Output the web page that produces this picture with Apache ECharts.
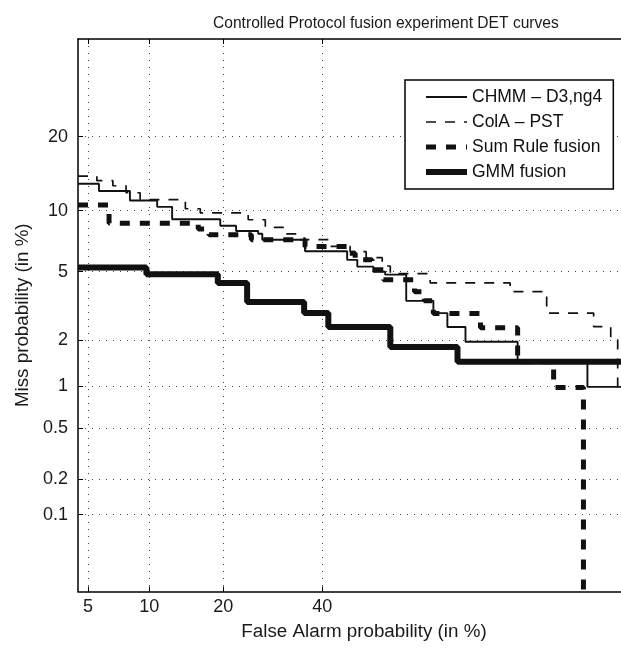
<!DOCTYPE html>
<html>
<head>
<meta charset="utf-8">
<title>DET curves</title>
<script src="https://cdn.jsdelivr.net/npm/echarts@6/dist/echarts.min.js"></script>
<style>
  html, body { margin: 0; padding: 0; background: #fff; }
  #chart { width: 621px; height: 650px; }
</style>
</head>
<body>
<div id="chart"></div>
<script>
// tick labels (in %)
const faTicks = [5, 10, 20, 40]
const missTicks = [0.1, 0.2, 0.5, 1, 2, 5, 10, 20]

// axis limits (in %), the figure is cut at the right edge
const faRange = [4.41, 93.6]
const missRange = [0.0194, 39.74]

// DET curves, false alarm % / miss % at each step
const chmmFa = [4.41, 5.7, 8.13, 10.85, 12.6, 19.5, 22.2, 26.3, 27.1, 36.1, 45.8, 48.2, 52.0, 54.8, 59.7, 65.8, 68.8, 72.5, 81.8, 90.7, 95.3]
const chmmMiss = [13.1, 12.2, 11.1, 10.4, 9.13, 8.51, 8.04, 7.79, 7.29, 6.38, 5.77, 5.32, 5.0, 4.82, 3.45, 2.93, 2.42, 1.96, 1.46, 0.99, 0.99]

const colaFa = [4.41, 5.56, 6.71, 7.79, 9.08, 14.3, 16.4, 24.4, 27.7, 31.8, 35.0, 41.8, 46.5, 50.3, 54.1, 56.0, 65.1, 80.6, 86.0, 91.3, 92.8, 93.35, 95.3]
const colaMiss = [14.1, 13.5, 12.85, 12.0, 11.2, 10.2, 9.76, 9.08, 8.37, 7.79, 7.29, 6.75, 6.35, 5.92, 5.36, 4.88, 4.35, 3.89, 2.93, 2.43, 2.02, 0.91, 0.91]

const sumFa = [4.41, 6.42, 16.1, 17.7, 25.0, 36.1, 46.1, 47.7, 51.7, 54.4, 61.6, 63.8, 65.8, 75.4, 81.8, 86.9, 90.3]
const sumMiss = [10.6, 8.75, 8.22, 7.71, 7.29, 6.75, 6.24, 5.77, 5.12, 4.52, 3.89, 3.45, 2.91, 2.39, 1.46, 0.98, 0]

const gmmFa = [4.41, 9.71, 19.1, 24.2, 35.9, 41.4, 56.0, 70.9, 95.3]
const gmmMiss = [5.27, 4.85, 4.35, 3.40, 2.93, 2.42, 1.82, 1.46, 1.46]

// inverse normal cdf (Acklam), DET axes are on the normal deviate scale
function normInv(p) {
    const a = [-3.969683028665376e+01, 2.209460984245205e+02, -2.759285104469687e+02, 1.383577518672690e+02, -3.066479806614716e+01, 2.506628277459239e+00]
    const b = [-5.447609879822406e+01, 1.615858368580409e+02, -1.556989798598866e+02, 6.680131188771972e+01, -1.328068155288572e+01]
    const c = [-7.784894002430293e-03, -3.223964580411365e-01, -2.400758277161838e+00, -2.549732539343734e+00, 4.374664141464968e+00, 2.938163982698783e+00]
    const d = [7.784695709041462e-03, 3.224671290700398e-01, 2.445134137142996e+00, 3.754408661907416e+00]
    const pl = 0.02425
    let q, r
    if (p < pl) {
        q = Math.sqrt(-2 * Math.log(p))
        return (((((c[0] * q + c[1]) * q + c[2]) * q + c[3]) * q + c[4]) * q + c[5]) / ((((d[0] * q + d[1]) * q + d[2]) * q + d[3]) * q + 1)
    }
    if (p > 1 - pl) {
        q = Math.sqrt(-2 * Math.log(1 - p))
        return -(((((c[0] * q + c[1]) * q + c[2]) * q + c[3]) * q + c[4]) * q + c[5]) / ((((d[0] * q + d[1]) * q + d[2]) * q + d[3]) * q + 1)
    }
    q = p - 0.5
    r = q * q
    return (((((a[0] * r + a[1]) * r + a[2]) * r + a[3]) * r + a[4]) * r + a[5]) * q / (((((b[0] * r + b[1]) * r + b[2]) * r + b[3]) * r + b[4]) * r + 1)
}

// percent -> deviate, a zero miss rate is pushed far below the axis
const dev = (pct) => normInv(Math.max(pct, 1e-4) / 100)

const toPoints = (fa, miss) => fa.map((x, i) => [dev(x), dev(miss[i])])

const labelFor = (ticks) => (value) => {
    let best = ticks[0]
    ticks.forEach((t) => {
        if (Math.abs(dev(t) - value) < Math.abs(dev(best) - value)) best = t
    })
    return String(best)
}

const font = "'Liberation Sans', Arial, Helvetica, sans-serif"
const ink = "#111"
const gridDots = {color: "#444", width: 1, type: [1, 6]}

const faDev = faTicks.map(dev)
const missDev = missTicks.map(dev)

const option = {
    animation: false,
    backgroundColor: "#fff",
    textStyle: {fontFamily: font},
    title: {
        text: "Controlled Protocol fusion experiment DET curves",
        left: 208,
        top: 11,
        textStyle: {fontFamily: font, fontSize: 15.6, fontWeight: "normal", color: "#1a1a1a"}
    },
    grid: {left: 78, right: 0, top: 39, bottom: 58.5},
    legend: {
        orient: "vertical",
        left: 405,
        top: 80,
        padding: [7, 11, 7, 18],
        itemWidth: 41,
        itemHeight: 14,
        itemGap: 5,
        backgroundColor: "#fff",
        borderColor: "#000",
        borderWidth: 1.5,
        borderRadius: 0,
        textStyle: {fontFamily: font, fontSize: 17.5, color: "#111", lineHeight: 20},
        itemStyle: {opacity: 0},
        lineStyle: {width: "inherit"},
        data: ["CHMM \u2013 D3,ng4", "ColA \u2013 PST", "Sum Rule fusion", "GMM fusion"]
    },
    xAxis: [
        {
            type: "value",
            position: "bottom",
            min: dev(faRange[0]),
            max: dev(faRange[1]),
            name: "False Alarm probability (in %)",
            nameLocation: "middle",
            nameGap: 31,
            // the full axes were wider than the cut picture, keep the label where it was
            nameTextStyle: {fontFamily: font, fontSize: 18.8, color: "#1a1a1a", padding: [0, 0, 0, 29]},
            axisLine: {show: true, onZero: false, lineStyle: {color: "#000", width: 1.5}},
            axisTick: {show: true, inside: true, length: 5, customValues: faDev, lineStyle: {color: "#000"}},
            axisLabel: {customValues: faDev, formatter: labelFor(faTicks), fontFamily: font, fontSize: 18, color: "#1a1a1a", margin: 7},
            splitLine: {show: true, lineStyle: gridDots}
        },
        {
            // top box edge
            type: "value",
            position: "top",
            min: dev(faRange[0]),
            max: dev(faRange[1]),
            axisLine: {show: true, onZero: false, lineStyle: {color: "#000", width: 1.5}},
            axisTick: {show: true, inside: true, length: 5, customValues: faDev, lineStyle: {color: "#000"}},
            axisLabel: {show: false},
            splitLine: {show: false}
        }
    ],
    yAxis: {
        type: "value",
        min: dev(missRange[0]),
        max: dev(missRange[1]),
        name: "Miss probability (in %)",
        nameLocation: "middle",
        nameGap: 43,
        nameTextStyle: {fontFamily: font, fontSize: 18.8, color: "#1a1a1a"},
        axisLine: {show: true, onZero: false, lineStyle: {color: "#000", width: 1.5}},
        axisTick: {show: true, inside: true, length: 5, customValues: missDev, lineStyle: {color: "#000"}},
        axisLabel: {customValues: missDev, formatter: labelFor(missTicks), fontFamily: font, fontSize: 18, color: "#1a1a1a", margin: 10},
        splitLine: {show: true, lineStyle: gridDots}
    },
    series: [
        {
            name: "CHMM \u2013 D3,ng4",
            type: "line",
            step: "end",
            symbol: "none",
            data: toPoints(chmmFa, chmmMiss),
            lineStyle: {color: ink, width: 1.9}
        },
        {
            name: "ColA \u2013 PST",
            type: "line",
            step: "end",
            symbol: "none",
            data: toPoints(colaFa, colaMiss),
            lineStyle: {color: ink, width: 1.7, type: [10, 9]}
        },
        {
            name: "Sum Rule fusion",
            type: "line",
            step: "end",
            symbol: "none",
            data: toPoints(sumFa, sumMiss),
            lineStyle: {color: ink, width: 5, type: [10, 10]}
        },
        {
            name: "GMM fusion",
            type: "line",
            step: "end",
            symbol: "none",
            data: toPoints(gmmFa, gmmMiss),
            lineStyle: {color: ink, width: 6}
        }
    ]
}

const chart = echarts.init(document.getElementById("chart"))
chart.setOption(option)
</script>
</body>
</html>
